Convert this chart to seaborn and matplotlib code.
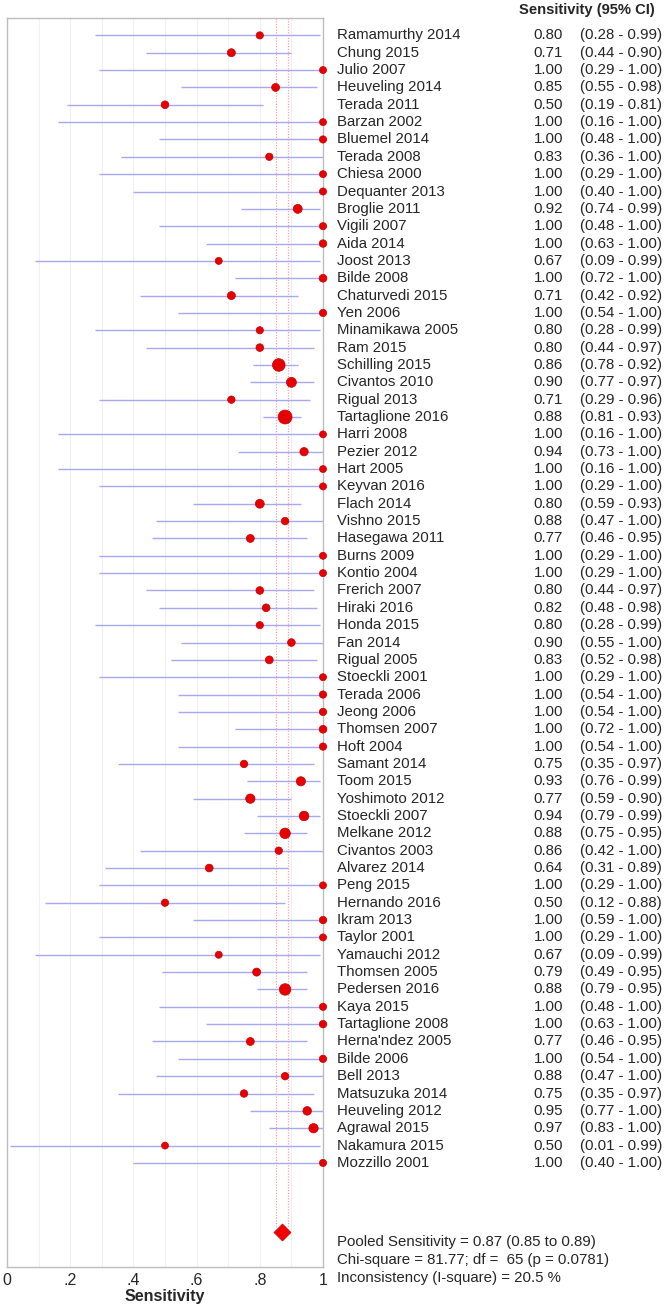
import numpy as np
import pandas as pd
import seaborn as sns
import matplotlib
matplotlib.use("Agg")
import matplotlib.pyplot as plt
import matplotlib.transforms as mtransforms

### DATA
studies = ["Ramamurthy 2014", "Chung 2015", "Julio 2007", "Heuveling 2014", "Terada 2011",
           "Barzan 2002", "Bluemel 2014", "Terada 2008", "Chiesa 2000", "Dequanter 2013",
           "Broglie 2011", "Vigili 2007", "Aida 2014", "Joost 2013", "Bilde 2008",
           "Chaturvedi 2015", "Yen 2006", "Minamikawa 2005", "Ram 2015", "Schilling 2015",
           "Civantos 2010", "Rigual 2013", "Tartaglione 2016", "Harri 2008", "Pezier 2012",
           "Hart 2005", "Keyvan 2016", "Flach 2014", "Vishno 2015", "Hasegawa 2011",
           "Burns 2009", "Kontio 2004", "Frerich 2007", "Hiraki 2016", "Honda 2015",
           "Fan 2014", "Rigual 2005", "Stoeckli 2001", "Terada 2006", "Jeong 2006",
           "Thomsen 2007", "Hoft 2004", "Samant 2014", "Toom 2015", "Yoshimoto 2012",
           "Stoeckli 2007", "Melkane 2012", "Civantos 2003", "Alvarez 2014", "Peng 2015",
           "Hernando 2016", "Ikram 2013", "Taylor 2001", "Yamauchi 2012", "Thomsen 2005",
           "Pedersen 2016", "Kaya 2015", "Tartaglione 2008", "Herna'ndez 2005", "Bilde 2006",
           "Bell 2013", "Matsuzuka 2014", "Heuveling 2012", "Agrawal 2015", "Nakamura 2015",
           "Mozzillo 2001"]
sens = [0.80, 0.71, 1.00, 0.85, 0.50, 1.00, 1.00, 0.83, 1.00, 1.00,
        0.92, 1.00, 1.00, 0.67, 1.00, 0.71, 1.00, 0.80, 0.80, 0.86,
        0.90, 0.71, 0.88, 1.00, 0.94, 1.00, 1.00, 0.80, 0.88, 0.77,
        1.00, 1.00, 0.80, 0.82, 0.80, 0.90, 0.83, 1.00, 1.00, 1.00,
        1.00, 1.00, 0.75, 0.93, 0.77, 0.94, 0.88, 0.86, 0.64, 1.00,
        0.50, 1.00, 1.00, 0.67, 0.79, 0.88, 1.00, 1.00, 0.77, 1.00,
        0.88, 0.75, 0.95, 0.97, 0.50, 1.00]
ci_low = [0.28, 0.44, 0.29, 0.55, 0.19, 0.16, 0.48, 0.36, 0.29, 0.40,
          0.74, 0.48, 0.63, 0.09, 0.72, 0.42, 0.54, 0.28, 0.44, 0.78,
          0.77, 0.29, 0.81, 0.16, 0.73, 0.16, 0.29, 0.59, 0.47, 0.46,
          0.29, 0.29, 0.44, 0.48, 0.28, 0.55, 0.52, 0.29, 0.54, 0.54,
          0.72, 0.54, 0.35, 0.76, 0.59, 0.79, 0.75, 0.42, 0.31, 0.29,
          0.12, 0.59, 0.29, 0.09, 0.49, 0.79, 0.48, 0.63, 0.46, 0.54,
          0.47, 0.35, 0.77, 0.83, 0.01, 0.40]
ci_high = [0.99, 0.90, 1.00, 0.98, 0.81, 1.00, 1.00, 1.00, 1.00, 1.00,
           0.99, 1.00, 1.00, 0.99, 1.00, 0.92, 1.00, 0.99, 0.97, 0.92,
           0.97, 0.96, 0.93, 1.00, 1.00, 1.00, 1.00, 0.93, 1.00, 0.95,
           1.00, 1.00, 0.97, 0.98, 0.99, 1.00, 0.98, 1.00, 1.00, 1.00,
           1.00, 1.00, 0.97, 0.99, 0.90, 0.99, 0.95, 1.00, 0.89, 1.00,
           0.88, 1.00, 1.00, 0.99, 0.95, 0.95, 1.00, 1.00, 0.95, 1.00,
           1.00, 0.97, 1.00, 1.00, 0.99, 1.00]
# diseased patients per study (drives marker weight)
n_pos = [5, 14, 3, 13, 10, 2, 5, 6, 3, 4,
         26, 5, 8, 3, 11, 14, 6, 5, 10, 85,
         40, 7, 110, 2, 18, 2, 3, 25, 8, 13,
         3, 3, 10, 11, 5, 10, 12, 3, 6, 6,
         11, 6, 8, 29, 31, 35, 48, 7, 11, 3,
         6, 7, 3, 3, 14, 65, 5, 8, 13, 6,
         8, 8, 21, 31, 2, 4]

pooled = 0.87
pooled_ci = (0.85, 0.89)
stats_lines = ["Pooled Sensitivity = 0.87 (0.85 to 0.89)",
               "Chi-square = 81.77; df =  65 (p = 0.0781)",
               "Inconsistency (I-square) = 20.5 %"]

df = pd.DataFrame({"study": studies, "sens": sens, "lo": ci_low, "hi": ci_high, "n": n_pos})
df["row"] = np.arange(len(df))

sns.set_style("white")
plt.rcParams["font.family"] = ["Liberation Sans", "DejaVu Sans"]

fig = plt.figure(figsize=(6.66, 13.07), dpi=100)
ax = fig.add_axes([0.0105, 0.0306, 0.4745, 0.9556])

pooled_row = len(df) + 3

# light grid every 0.1
for gx in np.arange(0.1, 1.0, 0.1):
    ax.axvline(gx, color="#efeff5", lw=0.8, zorder=0)

# pooled CI dotted lines
for v in pooled_ci:
    ax.vlines(v, -1, pooled_row - 0.3, colors="#f2a6a6", linestyles=(0, (1, 1.2)), lw=0.9, zorder=1)

ax.hlines(df["row"], df["lo"], df["hi"], colors="#a8a8f0", lw=1.0, zorder=2)

sns.scatterplot(data=df, x="sens", y="row", size="n", sizes=(25, 100), size_norm=(2, 110),
                color="#e60000", edgecolor="#c80000", linewidth=0.5, legend=False,
                zorder=3, clip_on=False, ax=ax)

ax.scatter([pooled], [pooled_row], marker="D", s=75, color="#ee0000", edgecolor="#cc0000",
           lw=0.5, zorder=4)

ax.set_xlim(0, 1)
ax.set_ylim(len(df) + 5, -1)
ax.set_yticks([])
ax.set_xticks([0, 0.2, 0.4, 0.6, 0.8, 1.0])
ax.set_xticklabels(["0", ".2", ".4", ".6", ".8", "1"], fontsize=11.5)
ax.tick_params(axis="x", length=0, pad=4)
ax.set_xlabel("Sensitivity", fontsize=11.5, fontweight="bold", labelpad=1)
ax.set_ylabel("")
for sp in ax.spines.values():
    sp.set_color("#bdbdbd")
    sp.set_linewidth(1.0)

# study table on the right
tr = mtransforms.blended_transform_factory(fig.transFigure, ax.transData)
x_name = 337 / 666
x_val = 563 / 666
x_ci = 580 / 666
for r, name, s, lo, hi in zip(df["row"], df["study"], df["sens"], df["lo"], df["hi"]):
    ax.text(x_name, r, name, transform=tr, fontsize=10.8, va="center", ha="left", clip_on=False)
    ax.text(x_val, r, f"{s:.2f}", transform=tr, fontsize=10.8, va="center", ha="right", clip_on=False)
    ax.text(x_ci, r, f"({lo:.2f} - {hi:.2f})", transform=tr, fontsize=10.8, va="center", ha="left", clip_on=False)

ax.text(587 / 666, -1.45, "Sensitivity (95% CI)", transform=tr, fontsize=10.6, fontweight="bold",
        va="center", ha="center", clip_on=False)

for i, line in enumerate(stats_lines):
    ax.text(x_name, pooled_row + 0.55 + i * 1.04, line, transform=tr, fontsize=10.8,
            va="center", ha="left", clip_on=False)

fig.savefig("out.png", dpi=100, facecolor="white")
